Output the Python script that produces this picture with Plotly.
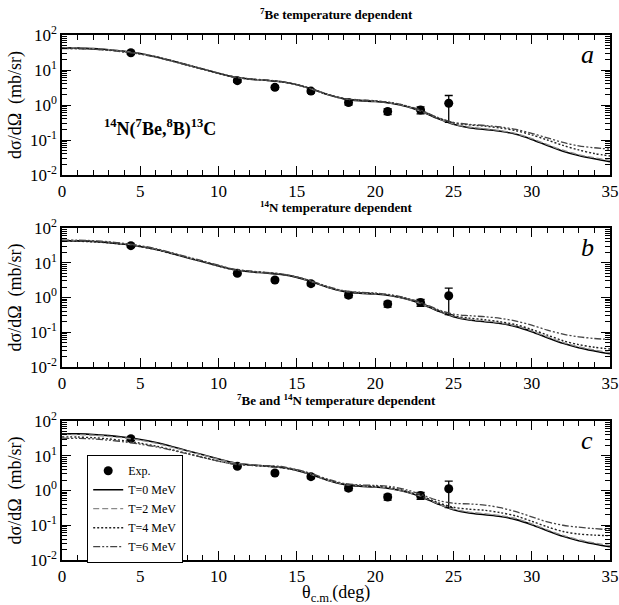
import plotly.graph_objects as go

# Scattering angle grid (deg) for the calculated curves
theta = list(range(0, 36))

# T = 0 MeV (identical in all three panels)
t0 = [43, 42.5, 41, 38, 34, 29.5, 24, 18.5, 14, 10.7, 8.1, 6.3, 5.5, 5.1, 4.6, 3.8,
      2.8, 1.95, 1.5, 1.33, 1.26, 1.12, 0.9, 0.64, 0.41, 0.28, 0.225, 0.2,
      0.178, 0.145, 0.104, 0.07, 0.048, 0.036, 0.029, 0.024]

# Panel a: 7Be temperature dependent
a_t2 = [43, 42.5, 41, 38, 34, 29.5, 24, 18.5, 14, 10.7, 8.1, 6.3, 5.5, 5.1, 4.6, 3.8,
        2.8, 1.96, 1.52, 1.35, 1.28, 1.14, 0.92, 0.65, 0.42, 0.29, 0.235, 0.21,
        0.186, 0.152, 0.11, 0.074, 0.051, 0.038, 0.031, 0.026]
a_t4 = [41.5, 41, 39.5, 37, 33, 28.8, 23.5, 18.2, 13.8, 10.6, 8.0, 6.3, 5.5, 5.1, 4.6, 3.8,
        2.82, 1.98, 1.53, 1.37, 1.3, 1.16, 0.93, 0.67, 0.43, 0.31, 0.27, 0.25,
        0.22, 0.185, 0.14, 0.1, 0.07, 0.052, 0.041, 0.035]
a_t6 = [41, 40.5, 39, 36.5, 32.5, 28.3, 23.2, 18, 13.7, 10.5, 8.0, 6.3, 5.6, 5.2, 4.7, 3.85,
        2.85, 2.0, 1.55, 1.4, 1.33, 1.18, 0.95, 0.69, 0.44, 0.32, 0.28, 0.26,
        0.235, 0.2, 0.155, 0.115, 0.085, 0.068, 0.06, 0.055]

# Panel b: 14N temperature dependent
b_t2 = [44, 43.5, 42, 39, 35, 30, 24.5, 18.8, 14.3, 10.9, 8.2, 6.35, 5.6, 5.2, 4.7, 3.85,
        2.82, 1.97, 1.52, 1.35, 1.28, 1.14, 0.92, 0.65, 0.42, 0.29, 0.235, 0.21,
        0.186, 0.152, 0.11, 0.074, 0.051, 0.038, 0.031, 0.026]
b_t4 = [42, 41.5, 40, 37.5, 33.5, 29, 23.8, 18.3, 13.9, 10.6, 8.0, 6.3, 5.6, 5.2, 4.7, 3.85,
        2.85, 2.0, 1.53, 1.37, 1.3, 1.16, 0.93, 0.67, 0.43, 0.3, 0.255, 0.23,
        0.2, 0.165, 0.12, 0.083, 0.057, 0.044, 0.037, 0.033]
b_t6 = [45, 44.5, 43, 40, 36, 31, 25.5, 19.5, 14.8, 11.3, 8.5, 6.5, 5.8, 5.3, 4.8, 3.95,
        2.9, 2.05, 1.57, 1.42, 1.35, 1.2, 0.96, 0.7, 0.45, 0.33, 0.3, 0.28,
        0.25, 0.21, 0.16, 0.115, 0.088, 0.074, 0.066, 0.062]

# Panel c: 7Be and 14N temperature dependent
c_t2 = [41, 40.5, 39, 36, 32.5, 28, 23, 17.8, 13.6, 10.4, 7.9, 6.2, 5.5, 5.1, 4.6, 3.8,
        2.8, 1.97, 1.52, 1.35, 1.28, 1.14, 0.92, 0.66, 0.42, 0.29, 0.24, 0.215,
        0.19, 0.155, 0.11, 0.074, 0.051, 0.038, 0.031, 0.026]
c_t4 = [35, 34.5, 33, 30.5, 27, 23, 19, 15, 11.6, 9, 7, 5.8, 5.3, 5.0, 4.6, 3.8,
        2.82, 2.0, 1.52, 1.38, 1.32, 1.2, 0.95, 0.68, 0.45, 0.33, 0.29, 0.27,
        0.23, 0.185, 0.13, 0.09, 0.066, 0.056, 0.052, 0.05]
c_t6 = [32, 31.5, 30.5, 28, 25, 21.5, 18, 14.5, 11.4, 8.9, 7, 5.7, 5.3, 5.2, 4.9, 4.0,
        3.0, 2.1, 1.6, 1.45, 1.4, 1.3, 1.05, 0.75, 0.52, 0.43, 0.41, 0.38,
        0.32, 0.245, 0.175, 0.125, 0.1, 0.088, 0.08, 0.074]

# Experimental data
exp_theta = [4.4, 11.2, 13.6, 15.9, 18.3, 20.8, 22.9, 24.7]
exp_xs = [31, 4.95, 3.2, 2.5, 1.17, 0.65, 0.72, 1.12]
exp_err_up = [3.0, 0.5, 0.35, 0.3, 0.17, 0.12, 0.16, 0.75]
exp_err_dn = [3.0, 0.5, 0.35, 0.3, 0.17, 0.12, 0.16, 0.8]

panel_titles = ["<b><sup>7</sup>Be temperature dependent</b>",
                "<b><sup>14</sup>N temperature dependent</b>",
                "<b><sup>7</sup>Be and <sup>14</sup>N temperature dependent</b>"]
panel_letters = ["a", "b", "c"]
legend_names = ["T=0 MeV", "T=2 MeV", "T=4 MeV", "T=6 MeV"]
x_title = "θ<sub>c.m.</sub>(deg)"
y_title = "dσ/dΩ  (mb/sr)"

y_tickvals = [0.01, 0.1, 1, 10, 100]
y_ticktext = ["10<sup>-2</sup>", "10<sup>-1</sup>", "10<sup>0</sup>",
              "10<sup>1</sup>", "10<sup>2</sup>"]
y_minor = [m * 10 ** e for e in range(-2, 2) for m in range(2, 10)]

FONT = "Liberation Serif, Times New Roman, Times, serif"
W, H = 619, 605
ML, MR, MT, MB = 62, 9, 35, 45
plot_h = H - MT - MB
plot_w = W - ML - MR
# pixel extents (top, bottom) of the three panels
panel_px = [(35, 175), (228, 367), (421, 560)]
domains = [[(H - MB - b) / plot_h, (H - MB - t) / plot_h] for t, b in panel_px]


def py(pix):
    """Convert a pixel row to paper y."""
    return (H - MB - pix) / plot_h


def px(pix):
    """Convert a pixel column to paper x."""
    return (pix - ML) / plot_w


styles = [
    dict(color="black", width=1.6, dash="solid"),
    dict(color="#8a8a8a", width=1.3, dash="6px,3px"),
    dict(color="#222222", width=1.4, dash="2px,2px"),
    dict(color="#444444", width=1.3, dash="7px,2px,2px,2px,2px,2px"),
]

series = [
    [t0, a_t2, a_t4, a_t6],
    [t0, b_t2, b_t4, b_t6],
    [t0, c_t2, c_t4, c_t6],
]

fig = go.Figure()

for i in range(3):
    xa = "x" if i == 0 else f"x{i+1}"
    ya = "y" if i == 0 else f"y{i+1}"
    show = i == 2
    fig.add_trace(go.Scatter(
        x=exp_theta, y=exp_xs, mode="markers", name="Exp.",
        marker=dict(color="black", size=9),
        error_y=dict(type="data", symmetric=False, array=exp_err_up,
                     arrayminus=exp_err_dn, color="black", thickness=1.3, width=4),
        xaxis=xa, yaxis=ya, showlegend=show))
    for k, ys in enumerate(series[i]):
        fig.add_trace(go.Scatter(
            x=theta, y=ys, mode="lines", name=legend_names[k],
            line=dict(shape="spline", smoothing=0.9, **styles[k]),
            xaxis=xa, yaxis=ya, showlegend=show))

axis_common = dict(
    showline=True, linecolor="black", linewidth=1.5, mirror="ticks",
    ticks="inside", tickcolor="black", tickwidth=1.2, showgrid=False, zeroline=False,
    automargin=False,
    tickfont=dict(family=FONT, size=17, color="black"),
)

layout = dict(
    width=W, height=H, margin=dict(l=ML, r=MR, t=MT, b=MB),
    plot_bgcolor="white", paper_bgcolor="white",
    font=dict(family=FONT, color="black"),
    legend=dict(x=px(87), y=py(455), xanchor="left", yanchor="top",
                bordercolor="black", borderwidth=1.2, bgcolor="white",
                font=dict(family=FONT, size=12), tracegroupgap=0),
)

for i in range(3):
    sx = "" if i == 0 else str(i + 1)
    layout[f"xaxis{sx}"] = dict(
        axis_common, domain=[0, 1], range=[0, 35], tickmode="linear", tick0=0, dtick=5,
        ticklen=9, anchor=f"y{sx}",
        minor=dict(ticks="inside", dtick=1, ticklen=5, tickcolor="black", tickwidth=1.2),
    )
    layout[f"yaxis{sx}"] = dict(
        axis_common, type="log", domain=domains[i], range=[-2, 2],
        tickmode="array", tickvals=y_tickvals, ticktext=y_ticktext, ticklen=9,
        anchor=f"x{sx}",
        minor=dict(ticks="inside", tickmode="array", tickvals=y_minor, ticklen=5,
                   tickcolor="black", tickwidth=1.0),
        title=dict(text=y_title, font=dict(family=FONT, size=18), standoff=4),
    )

fig.update_layout(**layout)

annotations = []
for i in range(3):
    t, b = panel_px[i]
    annotations.append(dict(
        text=panel_titles[i], xref="paper", yref="paper", x=0.5,
        y=py(t - 21), xanchor="center", yanchor="middle",
        showarrow=False, font=dict(family=FONT, size=13)))
    annotations.append(dict(
        text=f"<i>{panel_letters[i]}</i>", xref="paper", yref="paper",
        x=px(587), y=py(t + 19), xanchor="center", yanchor="middle",
        showarrow=False, font=dict(family=FONT, size=26)))
annotations.append(dict(
    text="<b><sup>14</sup>N(<sup>7</sup>Be,<sup>8</sup>B)<sup>13</sup>C</b>",
    xref="paper", yref="paper", x=px(102), y=py(128),
    xanchor="left", yanchor="middle",
    showarrow=False, font=dict(family=FONT, size=18)))
annotations.append(dict(
    text=x_title, xref="paper", yref="paper", x=0.5, y=py(593),
    xanchor="center", yanchor="middle", showarrow=False,
    font=dict(family=FONT, size=18)))
fig.update_layout(annotations=annotations)

fig.write_html("out.html")
